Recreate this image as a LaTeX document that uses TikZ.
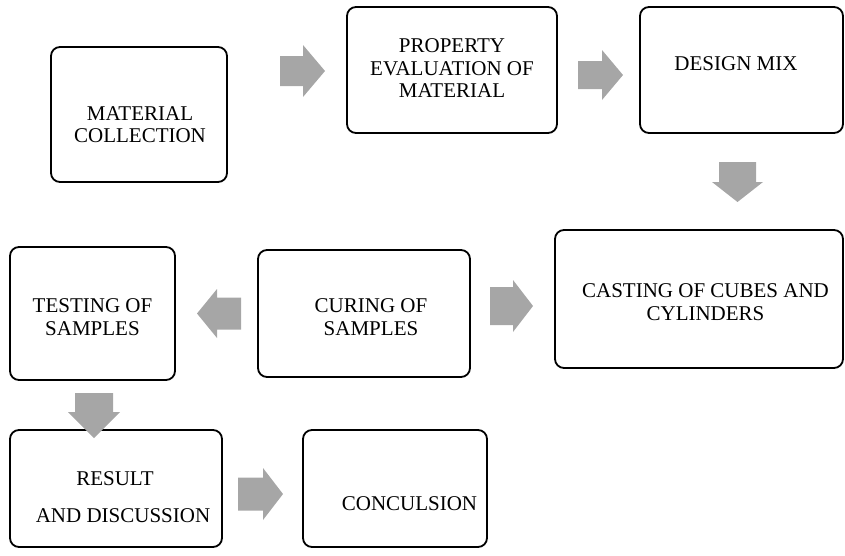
\documentclass[tikz,border=0pt]{standalone}
\usepackage{fontspec}
\setmainfont{Liberation Serif}
\definecolor{arrowgray}{RGB}{166,166,166}
\tikzset{
  box/.style={draw=black, line width=1.8pt, rounded corners=9pt, inner sep=0pt, fill=white},
  lbl/.style={inner sep=0pt, align=center, font=\fontsize{21}{22.5}\selectfont},
  blockarrow/.style={fill=arrowgray, draw=none}
}
% horizontal block arrow: x0 (tail), x1 (tip), xh (head base), cy, half shaft, half head
\newcommand\harrow[6]{%
  \fill[blockarrow] (#1,#4-#5) -- (#3,#4-#5) -- (#3,#4-#6) -- (#2,#4) -- (#3,#4+#6) -- (#3,#4+#5) -- (#1,#4+#5) -- cycle;}
% vertical block arrow: y0 (tail), y1 (tip), yh (head base), cx, half shaft, half head
\newcommand\varrow[6]{%
  \fill[blockarrow] (#4-#5,#1) -- (#4-#5,#3) -- (#4-#6,#3) -- (#4,#2) -- (#4+#6,#3) -- (#4+#5,#3) -- (#4+#5,#1) -- cycle;}
\begin{document}
\begin{tikzpicture}[x=1pt,y=-1pt]
\useasboundingbox (0,0) rectangle (845,555);

% boxes
\node[box, minimum width=176pt, minimum height=135pt] (mc) at (139,114.5) {};
\node[box, minimum width=210pt, minimum height=126pt] (pe) at (452,70) {};
\node[box, minimum width=203pt, minimum height=126pt] (dm) at (741.5,70) {};
\node[box, minimum width=288pt, minimum height=138pt] (cc) at (699,299) {};
\node[box, minimum width=212pt, minimum height=127pt] (cs) at (364,313.5) {};
\node[box, minimum width=165pt, minimum height=133pt] (ts) at (92.5,313.5) {};
\node[box, minimum width=212pt, minimum height=117pt] (rd) at (116,488.5) {};
\node[box, minimum width=184pt, minimum height=117pt] (cn) at (395,488.5) {};

% texts
\node[lbl] (t1) at (140,124.5) {MATERIAL\\COLLECTION};
\node[lbl] (t2) at (452,68.5) {PROPERTY\\EVALUATION OF\\MATERIAL};
\node[lbl, anchor=base] (t3) at (736,70) {DESIGN MIX};
\node[lbl] (t4) at (705.5,302) {CASTING OF CUBES AND\\CYLINDERS};
\node[lbl] (t5) at (371,317) {CURING OF\\SAMPLES};
\node[lbl] (t6) at (92.5,317) {TESTING OF\\SAMPLES};
\node[lbl, anchor=base] (t7a) at (115,485) {RESULT};
\node[lbl, anchor=base] (t7b) at (123,522) {AND DISCUSSION};
\node[lbl, anchor=base] (t8) at (409.5,510) {CONCULSION};

% block arrows
\harrow{280}{325}{303}{71}{15}{26}
\harrow{578}{623}{602}{75}{14}{25}
\varrow{162}{202}{182}{737.5}{18.5}{25.5}
\harrow{490}{533}{513}{306}{19}{26}
\harrow{241}{197}{217}{313.5}{16}{24.5}
\varrow{393}{438}{412}{94}{19}{26}
\harrow{238}{283}{263}{494}{16.5}{26}
\end{tikzpicture}
\end{document}
